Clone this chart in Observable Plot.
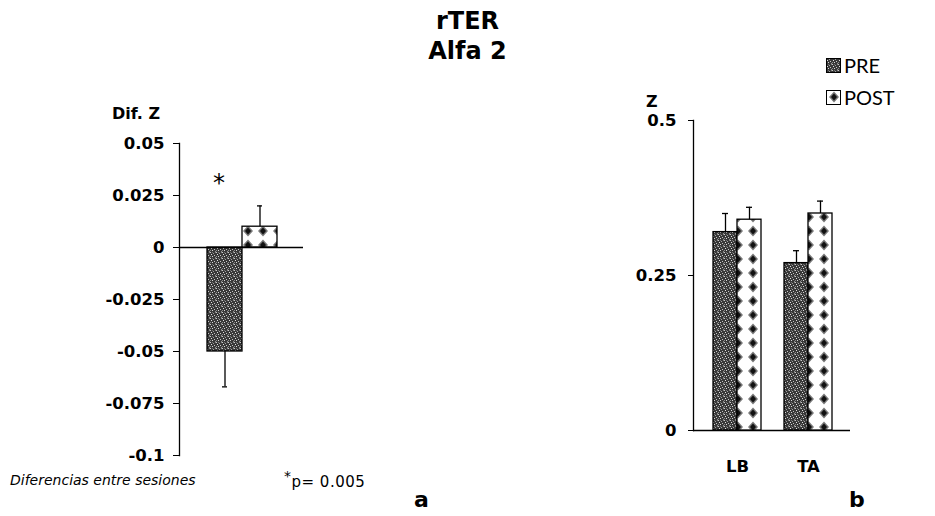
<!DOCTYPE html>
<html>
<head>
<meta charset="utf-8">
<script src="https://cdn.jsdelivr.net/npm/d3@7"></script>
<script src="https://cdn.jsdelivr.net/npm/@observablehq/plot@0.6"></script>
<style>
  html, body { margin: 0; padding: 0; background: #fff; }
  #wrap { position: relative; width: 935px; height: 516px; overflow: hidden; font-family: "DejaVu Sans", sans-serif; color: #000; }
  .abs { position: absolute; white-space: nowrap; }
  .title { left: 0; width: 935px; text-align: center; font-weight: bold; font-size: 24px; line-height: 1; }
  .lab { font-weight: bold; font-size: 16px; line-height: 1; }
  .leg { font-family: "Lato", sans-serif; font-size: 20px; line-height: 1; display: flex; align-items: center; }
  .leg svg { margin-right: 3px; }
  .plot { position: absolute; top: 0; }
</style>
</head>
<body>
<svg width="0" height="0" style="position:absolute">
  <defs>
    <pattern id="prePat" patternUnits="userSpaceOnUse" width="6" height="6">
      <rect width="6" height="6" fill="#383838"/>
      <rect x="0" y="0" width="1" height="1" fill="#c8c8c8"/>
      <rect x="3" y="1" width="1" height="1" fill="#a0a0a0"/>
      <rect x="1" y="2" width="1" height="1" fill="#e0e0e0"/>
      <rect x="4" y="3" width="1" height="1" fill="#c4c4c4"/>
      <rect x="2" y="4" width="1" height="1" fill="#d5d5d5"/>
      <rect x="5" y="5" width="1" height="1" fill="#909090"/>
      <rect x="5" y="0" width="1" height="1" fill="#808080"/>
      <rect x="0" y="4" width="1" height="1" fill="#8a8a8a"/>
      <rect x="2" y="0" width="1" height="1" fill="#707070"/>
    </pattern>
    <pattern id="postPat" patternUnits="userSpaceOnUse" width="15" height="14" x="1" y="0">
      <rect width="15" height="14" fill="#fff"/>
      <path d="M7,1.5 L12,7 L7,12.5 L2,7 Z" fill="#777"/>
      <path d="M7,3.5 L10,7 L7,10.5 L4,7 Z" fill="#111"/>
    </pattern>
  </defs>
</svg>
<div id="wrap">
  <div class="abs title" style="top:9px">rTER</div>
  <div class="abs title" style="top:39px">Alfa 2</div>

  <div class="abs leg" style="left:826px; top:55px"><svg width="15" height="15"><rect x="0.5" y="0.5" width="14" height="14" fill="url(#prePat)" stroke="#000"/></svg>PRE</div>
  <div class="abs leg" style="left:826px; top:87px"><svg width="15" height="15"><rect x="0.5" y="0.5" width="14" height="14" fill="url(#postPat)" stroke="#000"/></svg>POST</div>

  <div class="abs lab" style="left:112px; top:106px">Dif. Z</div>
  <div class="abs lab" style="left:646px; top:94px">Z</div>

  <div class="abs" style="left:10px; top:472px; font-style:italic; font-size:14px">Diferencias entre sesiones</div>
  <div class="abs" style="left:284px; top:468px; font-size:15px; letter-spacing:0.5px"><sup style="font-size:14px">*</sup>p= 0.005</div>
  <div class="abs" style="left:414px; top:487px; font-weight:bold; font-size:22px">a</div>
  <div class="abs" style="left:849px; top:487px; font-weight:bold; font-size:22px">b</div>
</div>
<script>
// ---- Panel a: differences between sessions ----
const diffSessions = ["PRE", "POST"];
const diffValues = [-0.05, 0.01];
const diffErrors = [0.017, 0.01];
const diffTicks = [0.05, 0.025, 0, -0.025, -0.05, -0.075, -0.1];
const diffStar = ["*"];
const diffStarSession = ["PRE"];
const diffStarValue = [0.031];

// ---- Panel b: Z by region ----
const regions = ["LB", "TA"];
const sessions = ["PRE", "POST"];
const preValues = [0.32, 0.27];
const preErrors = [0.03, 0.02];
const postValues = [0.34, 0.35];
const postErrors = [0.02, 0.02];
const zTicks = [0, 0.25, 0.5];

const fills = {PRE: "url(#prePat)", POST: "url(#postPat)"};

const diffData = diffSessions.map((s, i) => ({
  session: s, value: diffValues[i],
  end: diffValues[i] + Math.sign(diffValues[i]) * diffErrors[i]
}));
const starData = diffStar.map((t, i) => ({text: t, session: diffStarSession[i], value: diffStarValue[i]}));

const zData = [];
regions.forEach((r, i) => {
  zData.push({region: r, session: "PRE", value: preValues[i], end: preValues[i] + preErrors[i]});
  zData.push({region: r, session: "POST", value: postValues[i], end: postValues[i] + postErrors[i]});
});

const wrap = document.getElementById("wrap");
const tickStyle = {fontFamily: "DejaVu Sans, sans-serif", fontSize: "16.5px", fontWeight: "bold", color: "#000", background: "transparent", overflow: "visible"};

// Panel a
const plotA = Plot.plot({
  width: 440, height: 516,
  marginLeft: 179, marginRight: 137, marginTop: 143, marginBottom: 61,
  style: tickStyle,
  x: {type: "band", domain: diffSessions, range: [206, 277], padding: 0, axis: null},
  y: {domain: [-0.1, 0.05], ticks: diffTicks, tickFormat: d => String(d), tickSize: 6, tickPadding: 9, label: null},
  marks: [
    Plot.barY(diffData, {x: "session", y: "value", fill: d => fills[d.session], stroke: "#000", strokeWidth: 1.3}),
    Plot.ruleX(diffData, {x: "session", y1: "value", y2: "end", stroke: "#000", strokeWidth: 1.3}),
    Plot.tickY(diffData, {x: "session", y: "end", stroke: "#000", strokeWidth: 1.3, insetLeft: 15, insetRight: 15}),
    Plot.text(starData, {x: "session", y: "value", text: "text", dx: -6, fontSize: 24, fontWeight: "normal", fill: "#000"}),
    Plot.frame({anchor: "left", stroke: "#000", strokeWidth: 1.3}),
    Plot.ruleY([0], {stroke: "#000", strokeWidth: 1.5})
  ]
});
plotA.classList.add("plot");
plotA.style.left = "0px";
wrap.appendChild(plotA);

// Panel b: axes
const plotBAxes = Plot.plot({
  width: 495, height: 516,
  marginLeft: 253, marginRight: 85, marginTop: 120, marginBottom: 86,
  style: tickStyle,
  y: {domain: [0, 0.5], ticks: zTicks, tickFormat: d => String(d), tickSize: 5, tickPadding: 12, label: null},
  marks: [
    Plot.frame({anchor: "left", stroke: "#000", strokeWidth: 1.3}),
    Plot.ruleY([0], {stroke: "#000", strokeWidth: 1.5})
  ]
});
plotBAxes.classList.add("plot");
plotBAxes.style.left = "440px";
wrap.appendChild(plotBAxes);

// Panel b: grouped bars
const plotBBars = Plot.plot({
  width: 495, height: 516,
  marginLeft: 253, marginRight: 85, marginTop: 120, marginBottom: 86,
  style: tickStyle,
  fx: {domain: regions, range: [273, 392], paddingInner: 0.324, paddingOuter: 0, axis: "bottom", tickSize: 0, tickPadding: 30, label: null},
  x: {type: "band", domain: sessions, padding: 0, axis: null},
  y: {domain: [0, 0.5], axis: null},
  facet: {data: zData, x: "region"},
  marks: [
    Plot.barY(zData, {x: "session", y: "value", fill: d => fills[d.session], stroke: "#000", strokeWidth: 1.3}),
    Plot.ruleX(zData, {x: "session", y1: "value", y2: "end", stroke: "#000", strokeWidth: 1.3}),
    Plot.tickY(zData, {x: "session", y: "end", stroke: "#000", strokeWidth: 1.3, insetLeft: 9, insetRight: 9})
  ]
});
plotBBars.classList.add("plot");
plotBBars.style.left = "440px";
wrap.appendChild(plotBBars);
</script>
</body>
</html>
